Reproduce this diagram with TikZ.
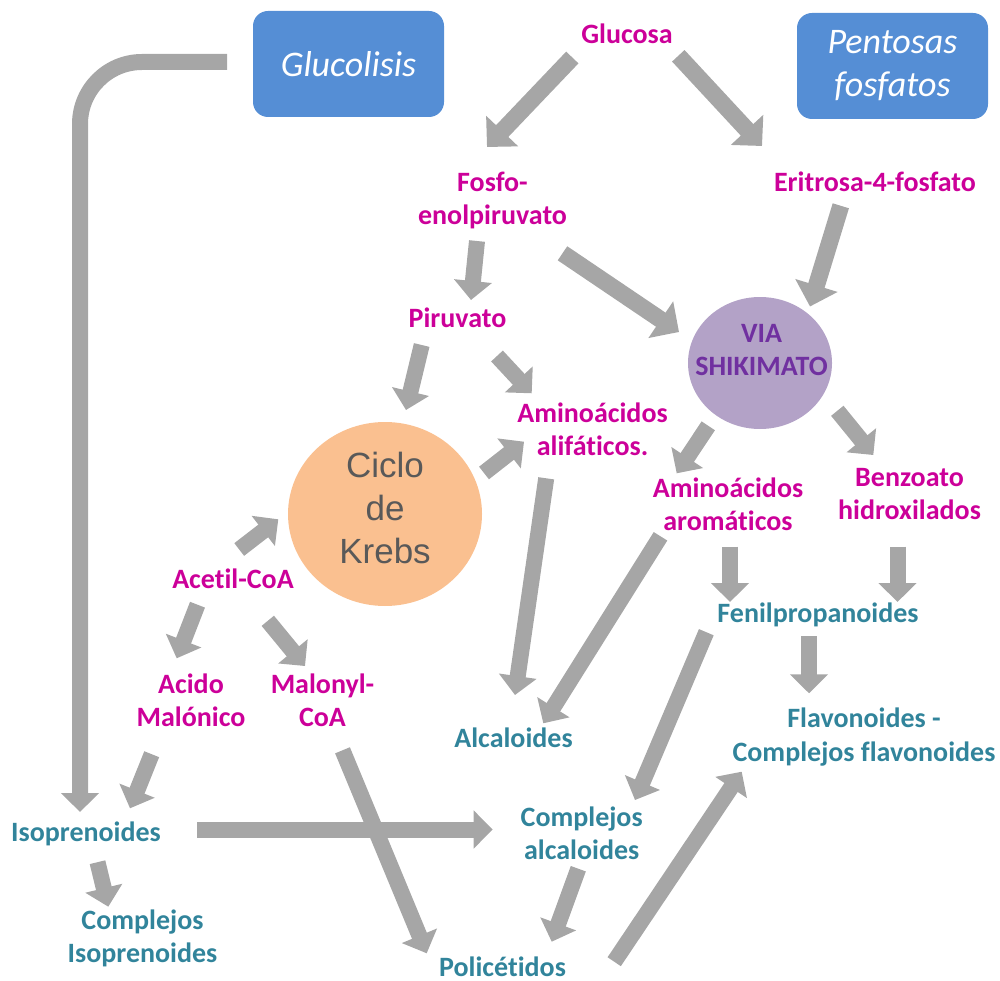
\documentclass[tikz,border=0pt]{standalone}
\usepackage{fontspec}
\setmainfont[Ligatures=NoCommon]{Carlito}
\newfontfamily\arialf{Liberation Sans}
\usetikzlibrary{arrows.meta,shapes.geometric}
\definecolor{mag}{HTML}{CC0099}
\definecolor{tealtx}{HTML}{31849B}
\definecolor{boxblue}{HTML}{558ED5}
\definecolor{viafill}{HTML}{B3A2C7}
\definecolor{viatext}{HTML}{7030A0}
\definecolor{krebsfill}{HTML}{FAC090}
\definecolor{krebstext}{HTML}{595959}
\definecolor{arrgray}{HTML}{A6A6A6}
\begin{document}
\begin{tikzpicture}[x=1pt,y=-1pt,
  lbl/.style={inner sep=0pt, anchor=base, align=center, font=\fontsize{28}{33}\selectfont\bfseries},
  pinklbl/.style={lbl, text=mag},
  teallbl/.style={lbl, text=tealtx},
  pathbox/.style={fill=boxblue, rounded corners=15pt, minimum width=191pt, minimum height=106pt, inner sep=0pt,
    text=white, font=\fontsize{36}{43}\selectfont\itshape, align=center},
  blk/.style={draw=arrgray, line width=16pt, -{Triangle[width=37pt,length=19pt]}},
  bigblk/.style={draw=arrgray, line width=17pt, -{Triangle[width=43pt,length=22pt]}},
]
\useasboundingbox (0,0) rectangle (1000,981);

% boxes and circles
\node[pathbox] (glucolisis) at (348.5,64) {Glucolisis};
\node[pathbox] (pentosas) at (892.5,66) {Pentosas\\fosfatos};
\node[ellipse, fill=viafill, minimum width=144pt, minimum height=132pt, inner sep=0pt] (via) at (760,363) {};
\node[lbl, text=viatext] (viat) at (761.5,375) {VIA\\SHIKIMATO};
\node[ellipse, fill=krebsfill, minimum width=194pt, minimum height=184pt, inner sep=0pt] (krebs) at (385,514) {};
\node[inner sep=0pt, anchor=base, align=center, text=krebstext, font=\arialf\fontsize{35}{43}\selectfont] (krebst) at (385,563) {Ciclo\\de\\Krebs};

% labels (base anchor = baseline of last line)
\node[pinklbl] (glucosa) at (627,44) {Glucosa};
\node[pinklbl] (pep) at (492.5,225) {Fosfo-\\enolpiruvato};
\node[pinklbl] (eritrosa) at (875,192) {Eritrosa-4-fosfato};
\node[pinklbl] (piruvato) at (457.5,327) {Piruvato};
\node[pinklbl] (aalif) at (592.5,455) {Aminoácidos\\alifáticos.};
\node[pinklbl] (aarom) at (728,530) {Aminoácidos\\aromáticos};
\node[pinklbl] (benzo) at (909.5,519) {Benzoato\\hidroxilados};
\node[pinklbl] (acetil) at (233,588) {Acetil-CoA};
\node[pinklbl] (acido) at (191,726) {Acido\\Malónico};
\node[pinklbl] (malonyl) at (322.5,726) {Malonyl-\\CoA};
\node[teallbl] (fenil) at (818,622) {Fenilpropanoides};
\node[teallbl, font=\fontsize{28}{34.5}\selectfont\bfseries] (flavon) at (864,761.5) {Flavonoides -\\Complejos flavonoides};
\node[teallbl] (alcal) at (513.5,747) {Alcaloides};
\node[teallbl] (isopren) at (86,841) {Isoprenoides};
\node[teallbl] (calc) at (581.7,859) {Complejos\\alcaloides};
\node[teallbl] (cisopren) at (142.5,962) {Complejos\\Isoprenoides};
\node[teallbl] (polic) at (502.5,976) {Policétidos};

% arrow ends
\coordinate (gl-s) at (227,62);
\coordinate (gl-c) at (80,62);
\coordinate (gl-e) at (80,812);
\coordinate (g-pep-s) at (572.3,57.5);
\coordinate (g-pep-e) at (487,147);
\coordinate (g-eri-s) at (678.3,55.8);
\coordinate (g-eri-e) at (762,146);
\coordinate (pep-pir-s) at (477,241);
\coordinate (pep-pir-e) at (471,300);
\coordinate (pep-via-s) at (562.5,253.3);
\coordinate (pep-via-e) at (679,332);
\coordinate (eri-via-s) at (840.8,205.8);
\coordinate (eri-via-e) at (810,306.5);
\coordinate (pir-kr-s) at (421.7,345);
\coordinate (pir-kr-e) at (406,410);
\coordinate (pir-al-s) at (497,356);
\coordinate (pir-al-e) at (531.7,393.3);
\coordinate (kr-al-s) at (484,473);
\coordinate (kr-al-e) at (524,441.7);
\coordinate (via-ar-s) at (708.3,425.8);
\coordinate (via-ar-e) at (676.7,473.3);
\coordinate (via-bz-s) at (837.3,410.8);
\coordinate (via-bz-e) at (873.3,455);
\coordinate (ac-kr-s) at (239.2,549.5);
\coordinate (ac-kr-e) at (278.3,519.3);
\coordinate (ac-am-s) at (197.5,604.7);
\coordinate (ac-am-e) at (176.7,658.3);
\coordinate (ac-mc-s) at (267.8,620.8);
\coordinate (ac-mc-e) at (305,666);
\coordinate (al-alc-s) at (546.2,478.3);
\coordinate (al-alc-e) at (515,695);
\coordinate (ar-alc-s) at (660.5,536.3);
\coordinate (ar-alc-e) at (543.3,723.3);
\coordinate (ar-fe-s) at (730,546.7);
\coordinate (ar-fe-e) at (730,602);
\coordinate (bz-fe-s) at (897.5,546.7);
\coordinate (bz-fe-e) at (897.5,602);
\coordinate (am-is-s) at (151.7,754.2);
\coordinate (am-is-e) at (130,808.3);
\coordinate (mc-po-s) at (342.5,750.3);
\coordinate (mc-po-e) at (426.7,953.3);
\coordinate (is-ca-s) at (197.3,829.5);
\coordinate (is-ca-e) at (492.7,829.5);
\coordinate (is-ci-s) at (97.5,862.2);
\coordinate (is-ci-e) at (108.3,906.7);
\coordinate (fe-ca-s) at (706.3,632.2);
\coordinate (fe-ca-e) at (635,800);
\coordinate (fe-fl-s) at (809,636);
\coordinate (fe-fl-e) at (809,693.3);
\coordinate (ca-po-s) at (578.3,868.7);
\coordinate (ca-po-e) at (551.7,941.7);
\coordinate (po-fl-s) at (614.2,961.7);
\coordinate (po-fl-e) at (741.7,771.7);

% arrows
\draw[blk, rounded corners=62pt] (gl-s) -- (gl-c) -- (gl-e);
\draw[bigblk] (g-pep-s) -- (g-pep-e);
\draw[bigblk] (g-eri-s) -- (g-eri-e);
\draw[blk] (pep-pir-s) -- (pep-pir-e);
\draw[bigblk] (pep-via-s) -- (pep-via-e);
\draw[bigblk] (eri-via-s) -- (eri-via-e);
\draw[blk] (pir-kr-s) -- (pir-kr-e);
\draw[blk] (pir-al-s) -- (pir-al-e);
\draw[blk] (kr-al-s) -- (kr-al-e);
\draw[blk] (via-ar-s) -- (via-ar-e);
\draw[blk] (via-bz-s) -- (via-bz-e);
\draw[blk] (ac-kr-s) -- (ac-kr-e);
\draw[blk] (ac-am-s) -- (ac-am-e);
\draw[blk] (ac-mc-s) -- (ac-mc-e);
\draw[blk] (al-alc-s) -- (al-alc-e);
\draw[blk] (ar-alc-s) -- (ar-alc-e);
\draw[blk] (ar-fe-s) -- (ar-fe-e);
\draw[blk] (bz-fe-s) -- (bz-fe-e);
\draw[blk] (am-is-s) -- (am-is-e);
\draw[blk] (mc-po-s) -- (mc-po-e);
\draw[blk] (is-ca-s) -- (is-ca-e);
\draw[blk] (is-ci-s) -- (is-ci-e);
\draw[blk] (fe-ca-s) -- (fe-ca-e);
\draw[blk] (fe-fl-s) -- (fe-fl-e);
\draw[blk] (ca-po-s) -- (ca-po-e);
\draw[blk] (po-fl-s) -- (po-fl-e);
\end{tikzpicture}
\end{document}
